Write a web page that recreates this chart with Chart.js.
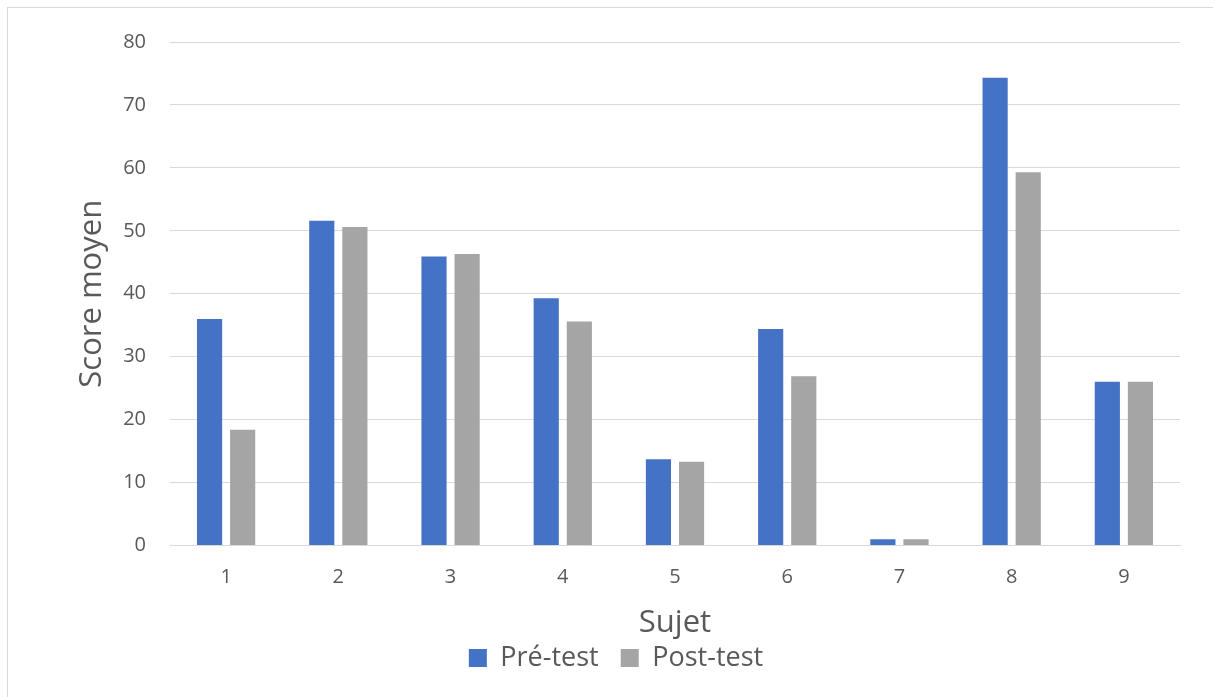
<!DOCTYPE html>
<html lang="fr">
<head>
<meta charset="utf-8">
<title>Score moyen par sujet</title>
<script src="https://cdn.jsdelivr.net/npm/chart.js@4/dist/chart.umd.min.js"></script>
<style>
  html, body { margin: 0; padding: 0; background: #ffffff; overflow: hidden; }
  #wrap { position: relative; width: 1213px; height: 697px; }
  #chart { position: absolute; left: 0; top: 0; }
  #frame {
    position: absolute; left: 7px; top: 7px; width: 1240px; height: 720px;
    border: 1px solid #d9d9d9; pointer-events: none;
  }
</style>
</head>
<body>
<div id="wrap">
  <canvas id="chart" width="1213" height="697"></canvas>
  <div id="frame"></div>
</div>
<script>
// Subjects and mean scores before / after the test
const subjects = ['1', '2', '3', '4', '5', '6', '7', '8', '9'];
const preTest  = [36.0, 51.6, 45.9, 39.3, 13.7, 34.4, 1.0, 74.3, 26.0];
const postTest = [18.4, 50.6, 46.3, 35.6, 13.3, 26.9, 1.0, 59.3, 26.0];
const seriesNames = ['Pré-test', 'Post-test'];
const yTicks = { min: 0, max: 80, step: 10 };

const FONT = '"Open Sans", "Noto Sans", sans-serif';
const TEXT = '#595959';
const GRID = '#d9d9d9';

// Fixed box sizes for the two axes so the plot area sits where intended
const Y_AXIS_WIDTH = 118;
const X_AXIS_HEIGHT = 77;

new Chart(document.getElementById('chart'), {
  type: 'bar',
  data: {
    labels: subjects,
    datasets: [
      { label: seriesNames[0], data: preTest,  backgroundColor: '#4472c4', borderWidth: 0 },
      { label: seriesNames[1], data: postTest, backgroundColor: '#a5a5a5', borderWidth: 0 }
    ]
  },
  options: {
    responsive: false,
    animation: false,
    devicePixelRatio: 1,
    datasets: { bar: { categoryPercentage: 0.59, barPercentage: 0.76 } },
    layout: { padding: { top: 42, left: 52, right: 33, bottom: 15.5 } },
    plugins: {
      tooltip: { enabled: false },
      legend: {
        position: 'bottom',
        labels: {
          color: TEXT,
          font: { family: FONT, size: 27 },
          boxWidth: 18,
          boxHeight: 18,
          padding: 22
        }
      }
    },
    scales: {
      x: {
        afterFit: (scale) => { scale.height = X_AXIS_HEIGHT; },
        grid: { display: false, drawTicks: false },
        border: { display: true, color: GRID, width: 1 },
        ticks: { color: TEXT, font: { family: FONT, size: 20 }, padding: 20 },
        title: {
          display: true, text: 'Sujet', color: TEXT,
          font: { family: FONT, size: 31 },
          padding: { top: 0, bottom: -19.6 }
        }
      },
      y: {
        min: yTicks.min, max: yTicks.max,
        afterFit: (scale) => { scale.width = Y_AXIS_WIDTH; },
        grid: { color: GRID, lineWidth: 1, drawTicks: false },
        border: { display: false },
        ticks: { stepSize: yTicks.step, color: TEXT, font: { family: FONT, size: 20 }, padding: 24 },
        title: {
          display: true, text: 'Score moyen', color: TEXT,
          font: { family: FONT, size: 31 },
          padding: { top: 22, bottom: 0 }
        }
      }
    }
  }
});
</script>
</body>
</html>
